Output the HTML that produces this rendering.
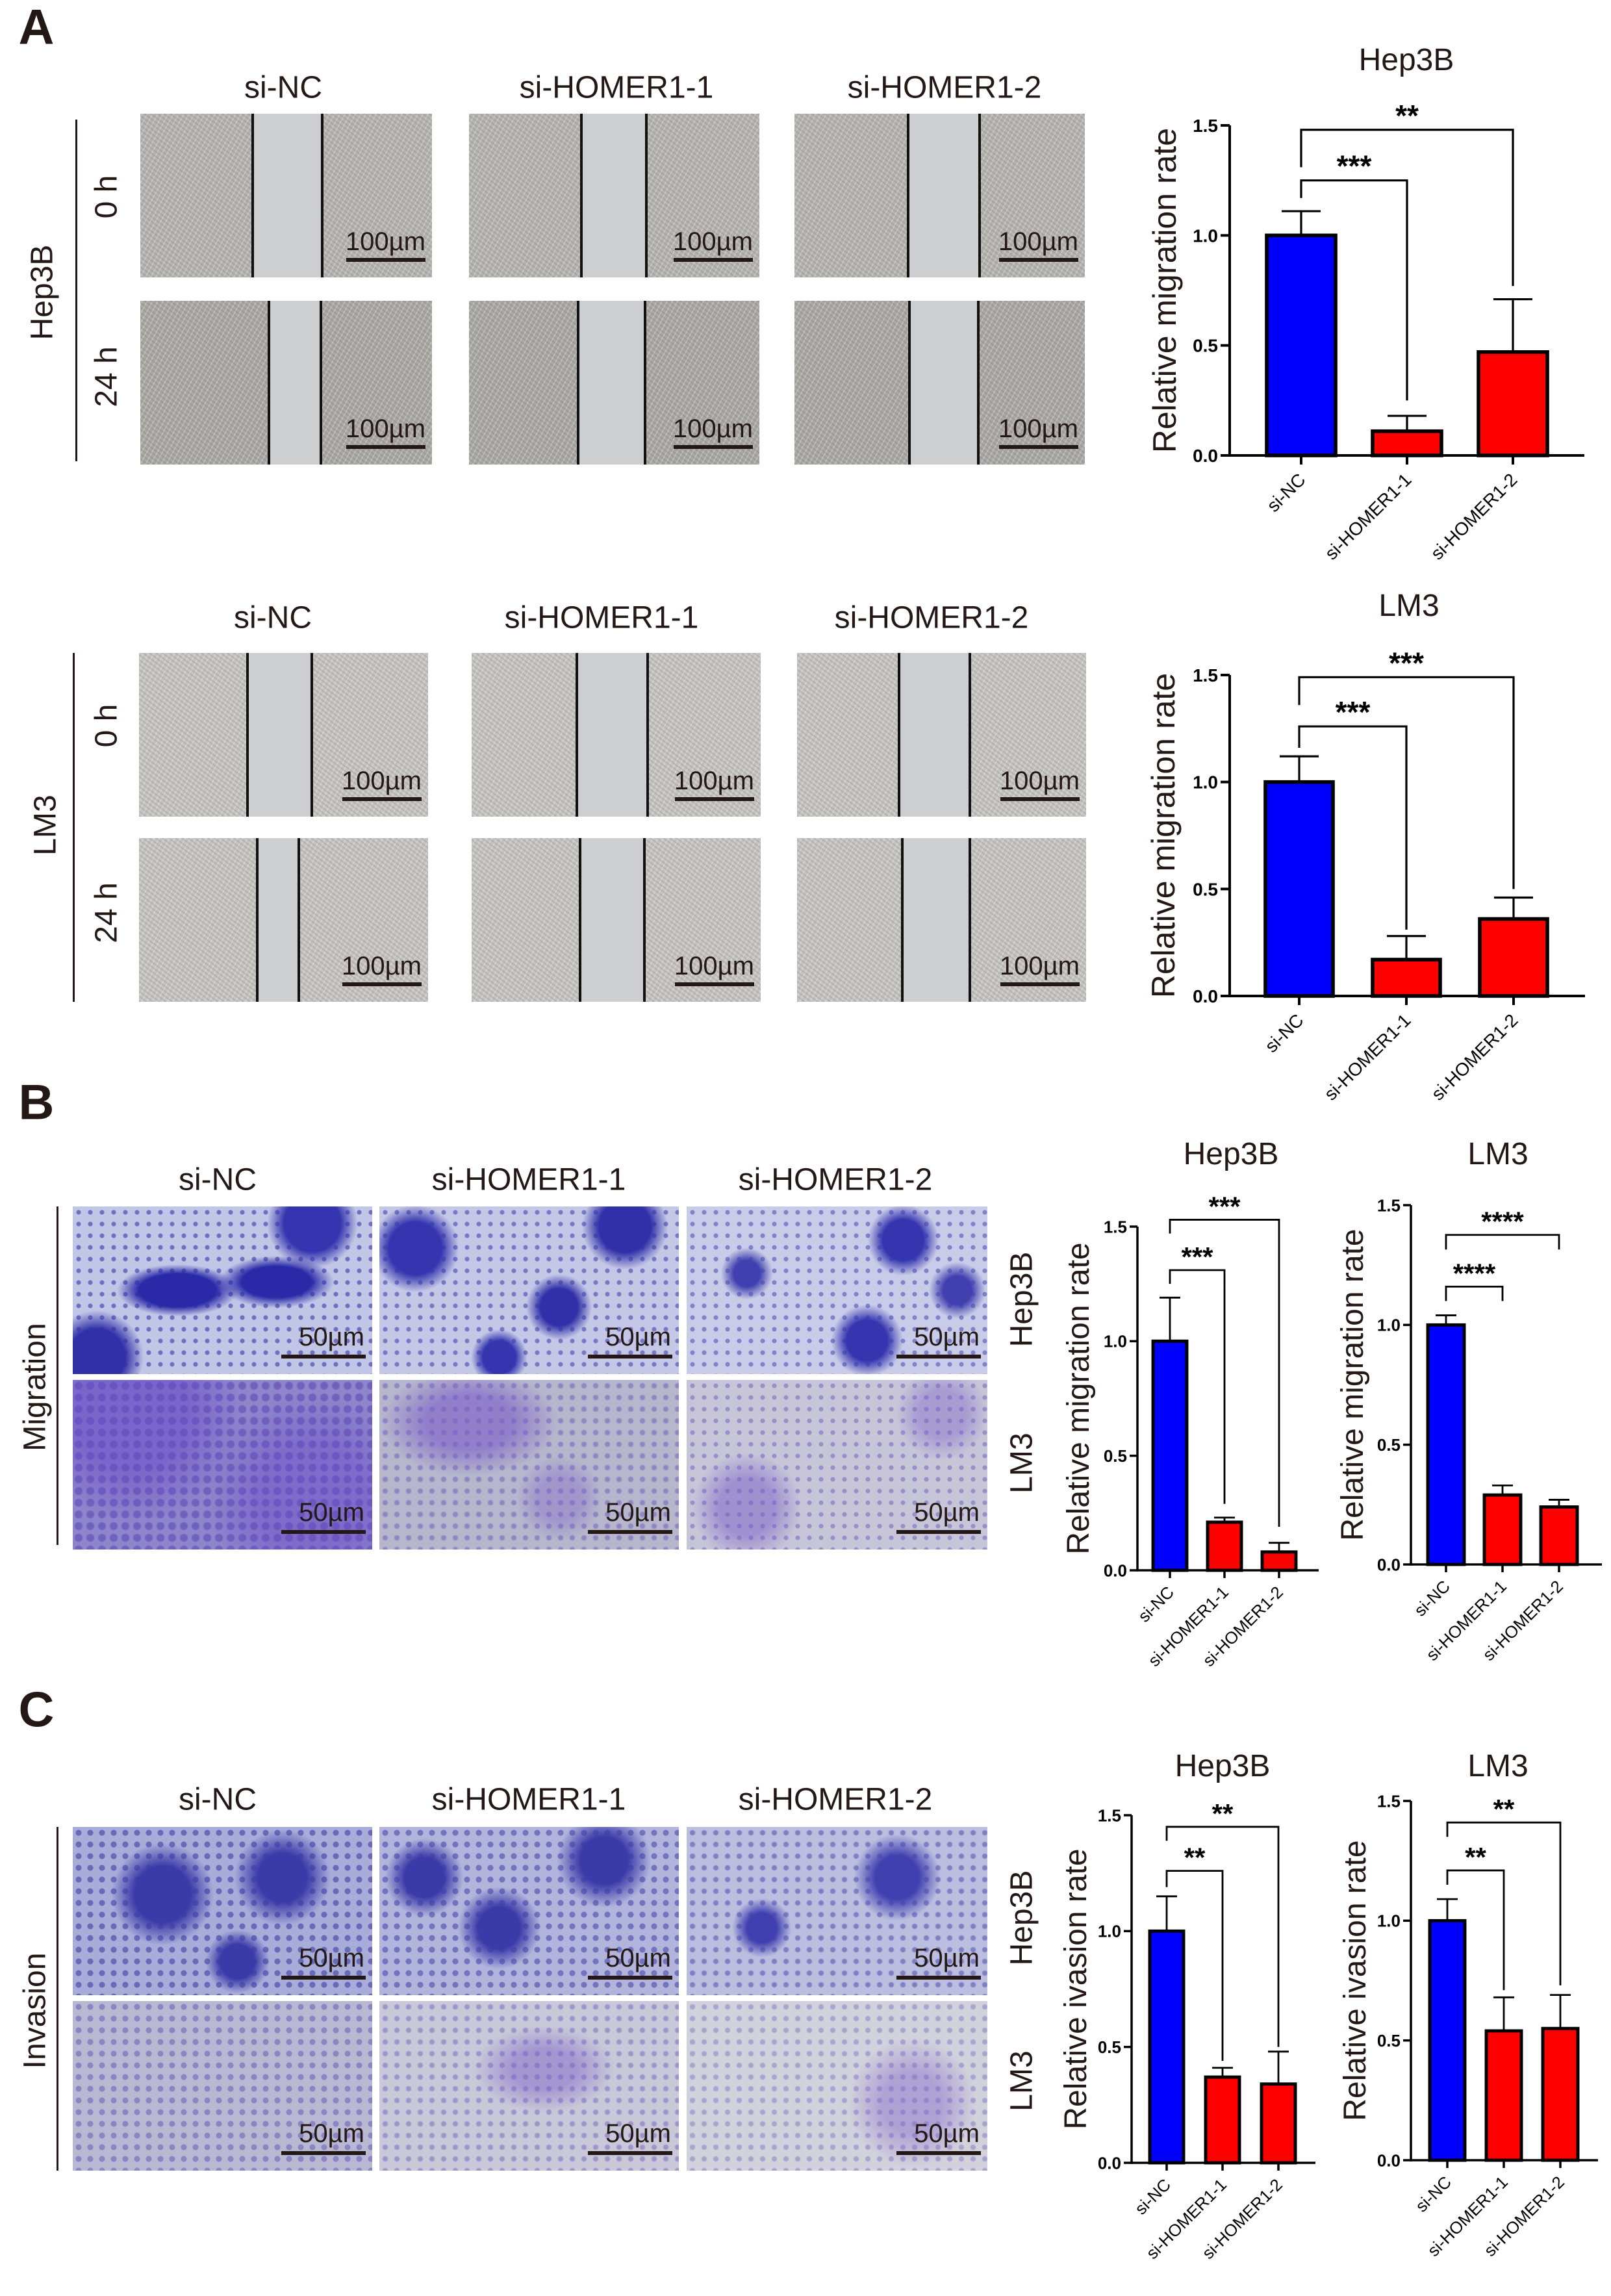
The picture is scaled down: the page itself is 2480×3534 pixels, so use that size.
<!DOCTYPE html>
<html><head><meta charset="utf-8">
<style>
html,body{margin:0;padding:0;background:#fff;}
#page{position:relative;width:2480px;height:3534px;overflow:hidden;background:#fff;font-family:"Liberation Sans",Arial,sans-serif;color:#231815;}
.t{position:absolute;white-space:nowrap;transform:translate(-50%,-50%);}
.rot{position:absolute;white-space:nowrap;transform:translate(-50%,-50%) rotate(-90deg);}
.letter{position:absolute;font-weight:bold;font-size:76px;transform:translate(-50%,-50%);}
.hdr{font-size:48px;}
.vline{position:absolute;width:3px;background:#231815;}
.img{position:absolute;overflow:hidden;}
.wound{background:#b5b3b0;background-image:repeating-linear-gradient(37deg,rgba(90,80,80,.18) 0 2px,transparent 2px 6px),repeating-linear-gradient(-61deg,rgba(255,255,255,.25) 0 2px,transparent 2px 7px);}
.wound.late{background-color:#a9a7a3;}
.wound.lm{background-color:#c4c3bf;}
.gap{position:absolute;top:0;bottom:0;background:#ccced0;border-left:4px solid #111;border-right:4px solid #111;}
.sb{position:absolute;font-size:40px;color:#231815;}
.sbl{position:absolute;height:6px;background:#231815;}
.dots{background-size:auto,auto,auto,auto,18px 18px;}
.mig1{background-color:#c2c6e6;background-image:radial-gradient(ellipse at 35% 50%,#2a2aa8 0 14%,transparent 22%),radial-gradient(ellipse at 68% 45%,#2a2aa8 0 12%,transparent 20%),radial-gradient(circle at 80% 10%,#3535b0 0 10%,transparent 16%),radial-gradient(circle at 8% 90%,#3030a8 0 9%,transparent 15%),radial-gradient(circle,rgba(40,40,160,.55) 0 3px,transparent 4px);}
.mig2{background-color:#c4c8e6;background-image:radial-gradient(circle at 60% 60%,#3030a8 0 9%,transparent 16%),radial-gradient(circle at 82% 12%,#3030a8 0 9%,transparent 15%),radial-gradient(circle at 12% 25%,#3535b0 0 9%,transparent 15%),radial-gradient(circle at 40% 90%,#3535b0 0 7%,transparent 12%),radial-gradient(circle,rgba(40,40,160,.5) 0 3px,transparent 4px);}
.mig3{background-color:#c9cce8;background-image:radial-gradient(circle at 60% 80%,#3535b0 0 9%,transparent 16%),radial-gradient(circle at 72% 20%,#3535b0 0 8%,transparent 14%),radial-gradient(circle at 20% 40%,#4040b0 0 5%,transparent 10%),radial-gradient(circle at 90% 50%,#4040b0 0 5%,transparent 10%),radial-gradient(circle,rgba(40,40,160,.45) 0 3px,transparent 4px);}
.lm1{background-color:#8e86cc;background-image:radial-gradient(circle at 20% 20%,rgba(100,70,200,.5) 0 20%,transparent 40%),radial-gradient(circle at 80% 70%,rgba(100,70,200,.4) 0 20%,transparent 40%),none,none,radial-gradient(circle,rgba(80,50,170,.45) 0 5px,transparent 7px);}
.lm2{background-color:#b6b7cc;background-image:radial-gradient(ellipse at 30% 25%,rgba(120,90,200,.6) 0 15%,transparent 30%),radial-gradient(circle at 60% 70%,rgba(120,90,200,.35) 0 10%,transparent 20%),none,none,radial-gradient(circle,rgba(90,60,180,.4) 0 3px,transparent 5px);}
.lm3c{background-color:#c6c6d8;background-image:radial-gradient(circle at 20% 75%,rgba(120,90,200,.5) 0 10%,transparent 20%),radial-gradient(circle at 85% 20%,rgba(120,90,200,.4) 0 8%,transparent 16%),none,none,radial-gradient(circle,rgba(90,60,180,.4) 0 3px,transparent 4px);}
.inv1{background-color:#a8acd8;background-image:radial-gradient(circle at 30% 40%,#3a3aa8 0 12%,transparent 22%),radial-gradient(circle at 70% 30%,#3a3aa8 0 10%,transparent 20%),radial-gradient(circle at 55% 80%,#3a3aa8 0 8%,transparent 15%),none,radial-gradient(circle,rgba(50,50,160,.55) 0 4px,transparent 5px);}
.inv2{background-color:#b2b4dc;background-image:radial-gradient(circle at 40% 60%,#3a3aa8 0 10%,transparent 20%),radial-gradient(circle at 75% 20%,#3a3aa8 0 9%,transparent 18%),radial-gradient(circle at 15% 30%,#3a3aa8 0 7%,transparent 14%),none,radial-gradient(circle,rgba(50,50,160,.5) 0 4px,transparent 5px);}
.inv3{background-color:#bcbee0;background-image:radial-gradient(circle at 70% 30%,#4040b0 0 9%,transparent 18%),radial-gradient(circle at 25% 60%,#4040b0 0 6%,transparent 12%),none,none,radial-gradient(circle,rgba(50,50,160,.45) 0 3px,transparent 5px);}
.invb1{background-color:#b8b8d2;background-image:none,none,none,none,radial-gradient(circle,rgba(90,70,180,.45) 0 4px,transparent 5px);}
.invb2{background-color:#c8c8d8;background-image:radial-gradient(ellipse at 55% 40%,rgba(120,90,200,.45) 0 14%,transparent 30%),none,none,none,radial-gradient(circle,rgba(90,70,180,.4) 0 3px,transparent 5px);}
.invb3{background-color:#d2d2dc;background-image:radial-gradient(circle at 75% 60%,rgba(120,90,200,.4) 0 12%,transparent 26%),none,none,none,radial-gradient(circle,rgba(90,70,180,.35) 0 3px,transparent 5px);}
svg{position:absolute;left:0;top:0;}
</style></head>
<body>
<div id="page">
<div class="letter" style="left:56px;top:42px">A</div>
<div class="letter" style="left:56px;top:1697px">B</div>
<div class="letter" style="left:56px;top:2632px">C</div>
</div>
<script>
// ---------- chart data ----------
const groups = ["si-NC","si-HOMER1-1","si-HOMER1-2"];
const yTicks = [0.0,0.5,1.0,1.5];
const yTickLabels = ["0.0","0.5","1.0","1.5"];
const aHepMeans = [1.00,0.11,0.47];
const aHepErr = [0.11,0.07,0.24];
const aLmMeans = [1.00,0.17,0.36];
const aLmErr = [0.12,0.11,0.10];
const bHepMeans = [1.00,0.21,0.08];
const bHepErr = [0.19,0.02,0.04];
const bLmMeans = [1.00,0.29,0.24];
const bLmErr = [0.04,0.04,0.03];
const cHepMeans = [1.00,0.37,0.34];
const cHepErr = [0.15,0.04,0.14];
const cLmMeans = [1.00,0.54,0.55];
const cLmErr = [0.09,0.14,0.14];
// brackets: [fromIdx, toIdx, yLevel, leftDrop, rightDrop]
const aHepBrackets = [[0,2,1.48,1.31,0.77],[0,1,1.25,1.17,0.25]];
const aHepStars = ["**","***"];
const aLmBrackets = [[0,2,1.49,1.36,0.50],[0,1,1.26,1.16,0.31]];
const aLmStars = ["***","***"];
const bHepBrackets = [[0,2,1.53,1.47,0.19],[0,1,1.31,1.25,0.29]];
const bHepStars = ["***","***"];
const bLmBrackets = [[0,2,1.376,1.315,1.315],[0,1,1.16,1.10,1.10]];
const bLmStars = ["****","****"];
const cHepBrackets = [[0,2,1.45,1.39,0.50],[0,1,1.26,1.19,0.44]];
const cHepStars = ["**","**"];
const cLmBrackets = [[0,2,1.41,1.35,0.73],[0,1,1.21,1.15,0.71]];
const cLmStars = ["**","**"];
</script>
<script>
const page=document.getElementById('page');
function txt(cls,x,y,s,size,name){const d=document.createElement('div');d.className=cls;d.style.left=x+'px';d.style.top=y+'px';if(size)d.style.fontSize=size+'px';d.textContent=s;


page.appendChild(d);return d;}
function vline(x,y1,y2,name){const d=document.createElement('div');d.className='vline';d.style.left=x+'px';d.style.top=y1+'px';d.style.height=(y2-y1)+'px';


page.appendChild(d);}
function img(cls,x1,y1,x2,y2,name,gap,sbText){const d=document.createElement('div');d.className='img '+cls+(gap?'':' dots');d.style.left=x1+'px';d.style.top=y1+'px';d.style.width=(x2-x1)+'px';d.style.height=(y2-y1)+'px';


if(gap){const g=document.createElement('div');g.className='gap';g.style.left=gap[0]+'px';g.style.width=(gap[1]-gap[0])+'px';


d.appendChild(g);}
const big=sbText==='100µm';
const s=document.createElement('div');s.className='sb';s.textContent=sbText;s.style.right=(big?10:12)+'px';s.style.bottom=(big?32:34)+'px';


d.appendChild(s);
const l=document.createElement('div');l.className='sbl';l.style.right='10px';l.style.width=(big?122:130)+'px';l.style.bottom='24px';


d.appendChild(l);
page.appendChild(d);}

// Panel A Hep3B
[[436,'si-NC'],[949,'si-HOMER1-1'],[1454,'si-HOMER1-2']].forEach(a=>txt('t hdr',a[0],135,a[1],null,'column-header'));
const aCols=[[216,665],[722,1169],[1223,1670]];
const aGapsTop=[[171,274],[171,267],[173,279]], aGapsBot=[[196,272],[166,265],[175,277]];
aCols.forEach((c,i)=>{img('wound',c[0],175,c[1],427,'hep3b-0h-image',aGapsTop[i],'100µm');img('wound late',c[0],463,c[1],715,'hep3b-24h-image',aGapsBot[i],'100µm');});
txt('rot',65,450,'Hep3B',48,'row-label-hep3b');
txt('rot',164,303,'0 h',48,'row-label-0h');
txt('rot',164,580,'24 h',48,'row-label-24h');
vline(116,184,710,'row-bracket-line');
// Panel A LM3
[[420,'si-NC'],[926,'si-HOMER1-1'],[1434,'si-HOMER1-2']].forEach(a=>txt('t hdr',a[0],951,a[1],null,'column-header'));
const a2Cols=[[214,659],[726,1171],[1227,1672]];
const a2GapsTop=[[165,260],[160,265],[155,260]], a2GapsBot=[[180,240],[165,260],[160,260]];
a2Cols.forEach((c,i)=>{img('wound lm',c[0],1005,c[1],1257,'lm3-0h-image',a2GapsTop[i],'100µm');img('wound lm',c[0],1290,c[1],1542,'lm3-24h-image',a2GapsBot[i],'100µm');});
txt('rot',70,1270,'LM3',48,'row-label-lm3');
txt('rot',164,1117,'0 h',48,'row-label-0h');
txt('rot',164,1405,'24 h',48,'row-label-24h');
vline(112,1005,1542,'row-bracket-line');
// Panel B
const bCols=[[112,573],[584,1045],[1057,1520]];
[[335,'si-NC'],[814,'si-HOMER1-1'],[1286,'si-HOMER1-2']].forEach(a=>txt('t hdr',a[0],1816,a[1],null,'column-header'));
bCols.forEach((c,i)=>{img('mig'+(i+1),c[0],1857,c[1],2115,'migration-hep3b-image',null,'50µm');img(['lm1','lm2','lm3c'][i],c[0],2124,c[1],2385,'migration-lm3-image',null,'50µm');});
txt('rot',54,2135,'Migration',48,'row-label-migration');
vline(87,1857,2378,'row-bracket-line');
txt('rot',1573,2000,'Hep3B',48,'row-label-hep3b');
txt('rot',1573,2252,'LM3',48,'row-label-lm3');
// Panel C
[[335,'si-NC'],[814,'si-HOMER1-1'],[1286,'si-HOMER1-2']].forEach(a=>txt('t hdr',a[0],2770,a[1],null,'column-header'));
bCols.forEach((c,i)=>{img('inv'+(i+1),c[0],2812,c[1],3071,'invasion-hep3b-image',null,'50µm');img('invb'+(i+1),c[0],3080,c[1],3341,'invasion-lm3-image',null,'50µm');});
txt('rot',54,3095,'Invasion',48,'row-label-invasion');
vline(87,2812,3341,'row-bracket-line');
txt('rot',1573,2952,'Hep3B',48,'row-label-hep3b');
txt('rot',1573,3203,'LM3',48,'row-label-lm3');

// ---------- charts ----------
const NS='http://www.w3.org/2000/svg';
const svg=document.createElementNS(NS,'svg');svg.setAttribute('width',2480);svg.setAttribute('height',3534);


page.appendChild(svg);
function el(tag,attrs,parent,text){const e=document.createElementNS(NS,tag);for(const k in attrs)e.setAttribute(k,attrs[k]);if(text!==undefined)e.textContent=text;parent.appendChild(e);return e;}
function chart(c){
  const g=el('g',{},svg);
  
  
  const ys=v=>c.y0-(v/1.5)*(c.y0-c.y15);
  const xs=i=>c.xc[0]+i*(c.xc[1]-c.xc[0]);
  const sw=c.sw;
  const tt=el('text',{x:c.titleX,y:c.titleY,'text-anchor':'middle','font-size':c.titleSize,fill:'#231815'},g,c.title);
  
  
  const ya=el('line',{x1:c.ax,y1:c.y15,x2:c.ax,y2:c.y0+sw/2,stroke:'#000','stroke-width':sw},g);
  
  
  yTicks.forEach((v,i)=>{
    el('line',{x1:c.ax-c.tick,y1:ys(v),x2:c.ax,y2:ys(v),stroke:'#000','stroke-width':sw},g);
    const tl=el('text',{x:c.ax-c.tick-4,y:ys(v)+c.tickSize*0.36,'text-anchor':'end','font-size':c.tickSize,'font-weight':'bold',fill:'#000'},g,yTickLabels[i]);
    
    
  });
  const yt=el('text',{x:c.ytX,y:(c.y0+c.y15)/2,'text-anchor':'middle','font-size':c.ytSize,fill:'#231815',transform:`rotate(-90 ${c.ytX} ${(c.y0+c.y15)/2})`},g,c.ytitle);
  
  
  c.means.forEach((m,i)=>{
    const x=xs(i),top=ys(m),etop=ys(m+c.err[i]);
    el('line',{x1:x,y1:top,x2:x,y2:etop,stroke:'#000','stroke-width':sw*0.8},g);
    el('line',{x1:x-c.cap,y1:etop,x2:x+c.cap,y2:etop,stroke:'#000','stroke-width':sw*0.8},g);
    const r=el('rect',{x:x-c.bw/2,y:top,width:c.bw,height:c.y0-top,fill:i===0?'#0000ff':'#ff0000',stroke:'#000','stroke-width':sw*1.4},g);
    
    
    el('line',{x1:x,y1:c.y0,x2:x,y2:c.y0+c.tick,stroke:'#000','stroke-width':sw},g);
    const lx=x+c.tickSize*0.3,ly=c.y0+c.tick+c.tickSize*0.9;
    const xl=el('text',{x:lx,y:ly,'text-anchor':'end','font-size':c.tickSize*1.0,fill:'#000',transform:`rotate(-45 ${lx} ${ly})`},g,groups[i]);
    
    
  });
  const xa=el('line',{x1:c.ax,y1:c.y0,x2:c.xend,y2:c.y0,stroke:'#000','stroke-width':sw},g);
  
  
  c.brackets.forEach((b,k)=>{
    const x1=xs(b[0]),x2=xs(b[1]);
    el('polyline',{points:`${x1},${ys(b[3])} ${x1},${ys(b[2])} ${x2},${ys(b[2])} ${x2},${ys(b[4])}`,fill:'none',stroke:'#000','stroke-width':sw*0.8},g);
    const st=el('text',{x:(x1+x2)/2,y:ys(b[2])-c.starGap,'text-anchor':'middle','font-size':c.starSize,'font-weight':'bold',fill:'#000'},g,c.stars[k]);
    
    
  });
}
chart({name:'chart-a-hep3b',title:'Hep3B',titleX:2165,titleY:108,titleSize:48,ax:1893,y0:701,y15:193,xc:[2003,2166],xend:2439,bw:106,sw:4,tick:14,cap:30,tickSize:28,ytitle:'Relative migration rate',ytX:1810,ytSize:50,means:aHepMeans,err:aHepErr,brackets:aHepBrackets,stars:aHepStars,starGap:6,starSize:46});
chart({name:'chart-a-lm3',title:'LM3',titleX:2169,titleY:948,titleSize:48,ax:1893,y0:1533,y15:1039,xc:[2000,2165],xend:2440,bw:104,sw:4,tick:14,cap:30,tickSize:28,ytitle:'Relative migration rate',ytX:1808,ytSize:50,means:aLmMeans,err:aLmErr,brackets:aLmBrackets,stars:aLmStars,starGap:6,starSize:46});
chart({name:'chart-b-hep3b',title:'Hep3B',titleX:1895,titleY:1792,titleSize:48,ax:1751,y0:2417,y15:1888,xc:[1801,1885],xend:2030,bw:52,sw:3.5,tick:12,cap:16,tickSize:26,ytitle:'Relative migration rate',ytX:1676,ytSize:48,means:bHepMeans,err:bHepErr,brackets:bHepBrackets,stars:bHepStars,starGap:6,starSize:42});
chart({name:'chart-b-lm3',title:'LM3',titleX:2306,titleY:1792,titleSize:48,ax:2172,y0:2408,y15:1855,xc:[2226,2313],xend:2466,bw:56,sw:3.5,tick:12,cap:16,tickSize:26,ytitle:'Relative migration rate',ytX:2098,ytSize:48,means:bLmMeans,err:bLmErr,brackets:bLmBrackets,stars:bLmStars,starGap:6,starSize:42});
chart({name:'chart-c-hep3b',title:'Hep3B',titleX:1882,titleY:2734,titleSize:48,ax:1742,y0:3329,y15:2794,xc:[1796,1882],xend:2025,bw:52,sw:3.5,tick:12,cap:16,tickSize:26,ytitle:'Relative ivasion rate',ytX:1672,ytSize:48,means:cHepMeans,err:cHepErr,brackets:cHepBrackets,stars:cHepStars,starGap:6,starSize:42});
chart({name:'chart-c-lm3',title:'LM3',titleX:2306,titleY:2734,titleSize:48,ax:2172,y0:3325,y15:2772,xc:[2228,2315],xend:2460,bw:54,sw:3.5,tick:12,cap:16,tickSize:26,ytitle:'Relative ivasion rate',ytX:2102,ytSize:48,means:cLmMeans,err:cLmErr,brackets:cLmBrackets,stars:cLmStars,starGap:6,starSize:42});
</script>
</body></html>
